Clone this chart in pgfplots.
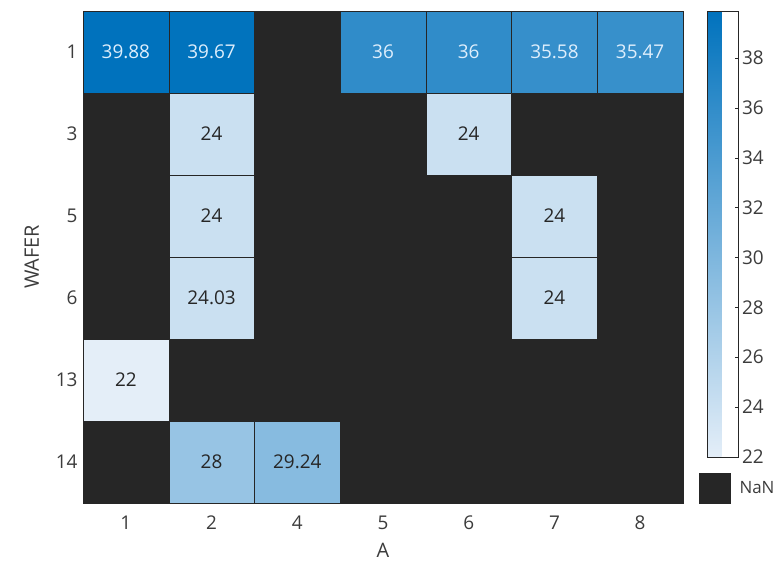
\documentclass[border=0pt]{standalone}
\usepackage{pgfplots}
\pgfplotsset{compat=1.18}
\usepackage{fontspec}
\setmainfont{Open Sans}
\definecolor{nanc}{RGB}{38,38,38}
\definecolor{txtd}{RGB}{38,38,38}
\definecolor{txtl}{RGB}{222,238,252}
\definecolor{ticktxt}{RGB}{60,60,60}
\begin{document}
\begin{tikzpicture}[font=\fontsize{19}{22}\selectfont]
\path[use as bounding box] (-83bp,-59bp) rectangle (691bp,503bp);
\begin{axis}[
  name=main,
  at={(0,0)}, anchor=south west,
  scale only axis, width=600bp, height=492bp,
  xmin=-0.5, xmax=6.5, ymin=-0.5, ymax=5.5, y dir=reverse,
  xtick={0,...,6}, xticklabels={1,2,4,5,6,7,8},
  ytick={0,...,5}, yticklabels={1,3,5,6,13,14},
  major tick length=0pt,
  tick label style={font=\fontsize{19}{22}\selectfont, text=ticktxt},
  xticklabel style={yshift=-9bp},
  yticklabel style={xshift=-2bp},
  label style={font=\fontsize{20}{24}\selectfont, text=ticktxt},
  xlabel style={yshift=-7bp},
  ylabel style={yshift=10bp},
  xlabel={A}, ylabel={WAFER},
  axis background/.style={fill=nanc},
  axis line style={draw=nanc},
  colormap={mb}{rgb255=(228,238,248) rgb255=(0,114,189)},
  point meta min=22, point meta max=39.88,
  colorbar,
  colorbar style={
    at={(parent axis.north east)}, anchor=north west, xshift=16bp,
    scale only axis, width=31bp, height=446bp,
    ytick={22,24,...,38},
    ytick pos=right, yticklabel pos=right,
    tick align=inside, major tick length=4bp,
    ytick style={draw=nanc},
    axis line style={draw=nanc},
    yticklabel style={font=\fontsize{19}{22}\selectfont, text=ticktxt, /pgf/number format/assume math mode=true},
  },
]
\addplot[patch, patch type=rectangle, shader=faceted, faceted color=nanc, point meta=explicit] table[meta=c] {
x y c
-0.5 -0.5 39.88
0.5 -0.5 39.88
0.5 0.5 39.88
-0.5 0.5 39.88
0.5 -0.5 39.67
1.5 -0.5 39.67
1.5 0.5 39.67
0.5 0.5 39.67
2.5 -0.5 36
3.5 -0.5 36
3.5 0.5 36
2.5 0.5 36
3.5 -0.5 36
4.5 -0.5 36
4.5 0.5 36
3.5 0.5 36
4.5 -0.5 35.58
5.5 -0.5 35.58
5.5 0.5 35.58
4.5 0.5 35.58
5.5 -0.5 35.47
6.5 -0.5 35.47
6.5 0.5 35.47
5.5 0.5 35.47
0.5 0.5 24
1.5 0.5 24
1.5 1.5 24
0.5 1.5 24
3.5 0.5 24
4.5 0.5 24
4.5 1.5 24
3.5 1.5 24
0.5 1.5 24
1.5 1.5 24
1.5 2.5 24
0.5 2.5 24
4.5 1.5 24
5.5 1.5 24
5.5 2.5 24
4.5 2.5 24
0.5 2.5 24.03
1.5 2.5 24.03
1.5 3.5 24.03
0.5 3.5 24.03
4.5 2.5 24
5.5 2.5 24
5.5 3.5 24
4.5 3.5 24
-0.5 3.5 22
0.5 3.5 22
0.5 4.5 22
-0.5 4.5 22
0.5 4.5 28
1.5 4.5 28
1.5 5.5 28
0.5 5.5 28
1.5 4.5 29.24
2.5 4.5 29.24
2.5 5.5 29.24
1.5 5.5 29.24
};
\addplot[draw=none, mark=none, nodes near coords, point meta=explicit symbolic,
  nodes near coords align=center,
  every node near coord/.append style={anchor=center, text=txtl, font=\fontsize{19}{22}\selectfont}] table[meta=t] {
x y t
0 0 39.88
1 0 39.67
3 0 36
4 0 36
5 0 35.58
6 0 35.47
};
\addplot[draw=none, mark=none, nodes near coords, point meta=explicit symbolic,
  nodes near coords align=center,
  every node near coord/.append style={anchor=center, text=txtd, font=\fontsize{19}{22}\selectfont}] table[meta=t] {
x y t
1 1 24
4 1 24
1 2 24
5 2 24
1 3 24.03
5 3 24
0 4 22
1 5 28
2 5 29.24
};
\end{axis}
\draw[fill=nanc, draw=nanc] ([xshift=16bp]main.south east) rectangle ([xshift=47bp,yshift=30bp]main.south east);
\node[anchor=west, text=ticktxt, font=\fontsize{17}{20}\selectfont] at ([xshift=53bp,yshift=15bp]main.south east) {NaN};
\end{tikzpicture}
\end{document}
